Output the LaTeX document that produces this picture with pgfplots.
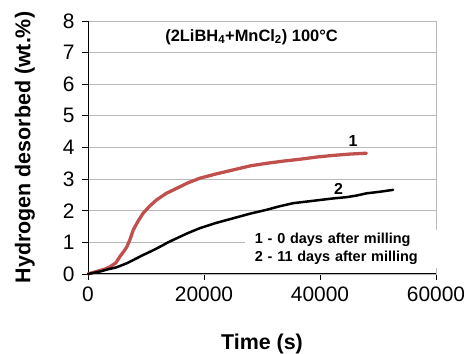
\documentclass[border=0pt]{standalone}
\usepackage{pgfplots}
\pgfplotsset{compat=1.18}
\usepackage{fontspec}
\setmainfont{Liberation Sans}
\definecolor{redc}{HTML}{C0504D}
\begin{document}
\begin{tikzpicture}
\begin{axis}[
  name=ax,
  scale only axis,
  width=348bp, height=253bp,
  xmin=0, xmax=60000, ymin=0, ymax=8,
  xtick={0,20000,40000,60000},
  ytick={0,1,...,8},
  scaled x ticks=false,
  /pgf/number format/1000 sep={},
  /pgf/number format/assume math mode=true,
  tick pos=left,
  tick align=outside,
  major tick length=6bp,
  tick style={black, line width=0.8pt},
  ymajorgrids,
  grid style={gray!55, line width=0.9pt},
  axis line style={gray!55, line width=0.9pt},
  ticklabel style={font=\fontsize{21}{24}\selectfont},
  xticklabel style={yshift=-3bp},
  yticklabel style={xshift=-4bp},
  xlabel={\textbf{Time (s)}},
  ylabel={\textbf{Hydrogen desorbed (wt.\%)}},
  label style={font=\fontsize{21.5}{24}\selectfont},
  xlabel style={at={(axis description cs:0.5,0)}, anchor=center, yshift=-70bp},
  ylabel style={at={(axis description cs:0,0.5)}, anchor=center, xshift=0bp, yshift=63bp},
  clip=false,
]
\draw[black, line width=1pt] (rel axis cs:0,1) -- (rel axis cs:0,0) -- (rel axis cs:1,0);
\node[fill=white, inner xsep=10bp, inner ysep=3bp, anchor=west, align=left, text width=175bp,
  font=\bfseries\fontsize{14.5}{18.3}\selectfont] at (axis cs:27000,0.79)
  {1 - 0 days after milling\\2 - 11 days after milling};
\addplot[redc, line width=3.3pt, line join=round, line cap=round] coordinates {
(0,0) (1500,0.08) (3000,0.16) (3800,0.23) (4800,0.35) (5500,0.55) (6200,0.72) (6700,0.86)
(7300,1.12) (7800,1.39) (8600,1.66) (9500,1.92) (10600,2.14) (11800,2.34) (13500,2.55)
(15300,2.71) (17200,2.88) (19300,3.03) (22000,3.16) (25000,3.29) (28000,3.42)
(30800,3.50) (33700,3.57) (36600,3.63) (39500,3.70) (42300,3.75) (45000,3.79) (48000,3.82)
};
\addplot[black, line width=2.5pt, line join=round, line cap=round] coordinates {
(0,0) (2100,0.08) (3500,0.15) (4900,0.21) (6700,0.34) (8000,0.46) (9500,0.6) (11000,0.73)
(12400,0.86) (13800,1.0) (15300,1.13) (17300,1.30) (19300,1.45) (22000,1.61) (25000,1.76)
(28000,1.91) (30800,2.03) (33000,2.14) (35400,2.24) (37700,2.29) (40000,2.34) (42300,2.39)
(44600,2.43) (46300,2.48) (48000,2.55) (50300,2.60) (52600,2.66)
};
\node[font=\bfseries\fontsize{16}{18}\selectfont] at (axis cs:45700,4.2) {1};
\node[font=\bfseries\fontsize{16}{18}\selectfont] at (axis cs:43200,2.68) {2};
\node[font=\bfseries\fontsize{16.5}{18}\selectfont] at (axis cs:28200,7.5) {(2LiBH\textsubscript{4}+MnCl\textsubscript{2}) 100°C};
\end{axis}
\pgfresetboundingbox
\path ([shift={(-88bp,-80bp)}]ax.south west) rectangle ([shift={(32bp,21bp)}]ax.north east);
\end{tikzpicture}
\end{document}
